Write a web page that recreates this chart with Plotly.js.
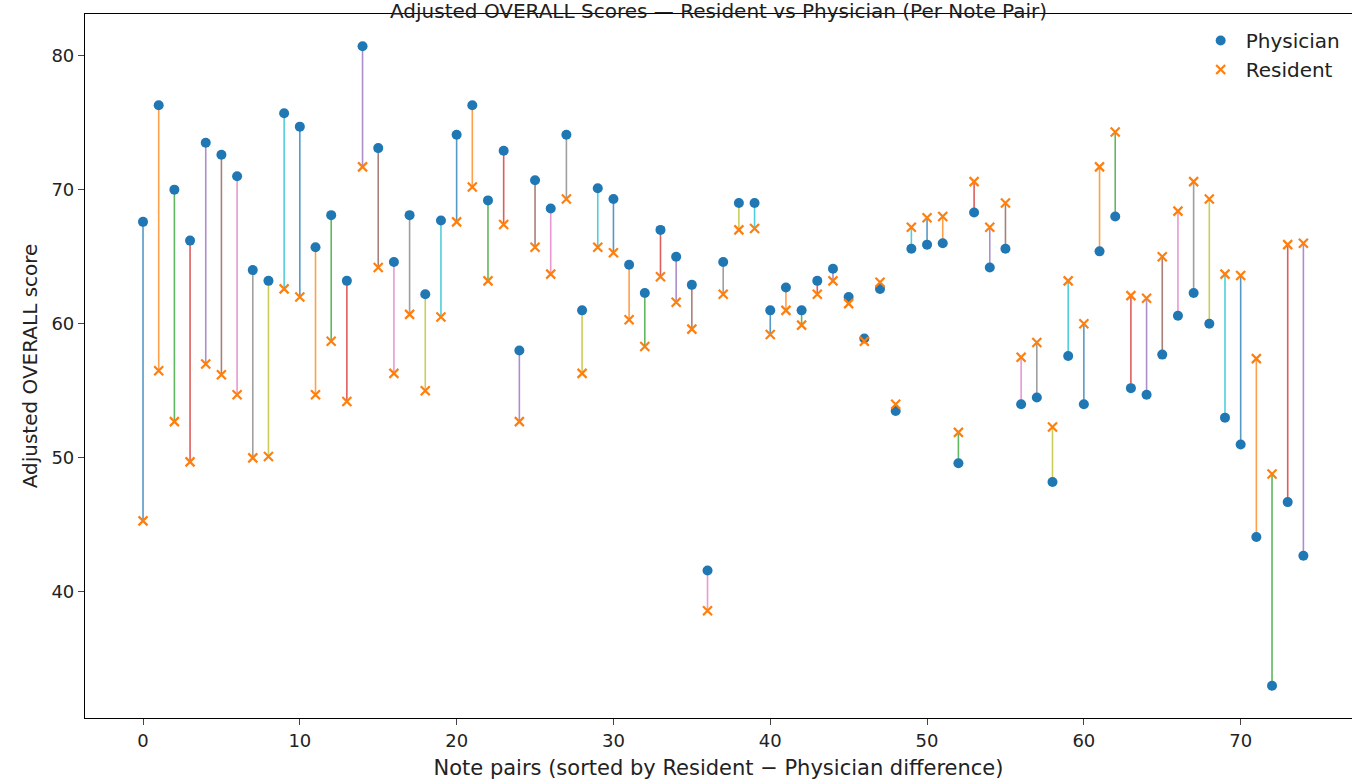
<!DOCTYPE html>
<html>
<head>
<meta charset="utf-8">
<script src="https://cdn.plot.ly/plotly-3.0.1.min.js"></script>
<style>body{margin:0;background:#fff}#plot{width:1352px;height:783px}</style>
</head>
<body>
<div id="plot"></div>
<script>
// Adjusted OVERALL score per note pair, sorted by Resident - Physician difference
const physician = [67.6, 76.3, 70.0, 66.2, 73.5, 72.6, 71.0, 64.0, 63.2, 75.7,
  74.7, 65.7, 68.1, 63.2, 80.7, 73.1, 64.6, 68.1, 62.2, 67.7,
  74.1, 76.3, 69.2, 72.9, 58.0, 70.7, 68.6, 74.1, 61.0, 70.1,
  69.3, 64.4, 62.3, 67.0, 65.0, 62.9, 41.6, 64.6, 69.0, 69.0,
  61.0, 62.7, 61.0, 63.2, 64.1, 62.0, 58.9, 62.6, 53.5, 65.6,
  65.9, 66.0, 49.6, 68.3, 64.2, 65.6, 54.0, 54.5, 48.2, 57.6,
  54.0, 65.4, 68.0, 55.2, 54.7, 57.7, 60.6, 62.3, 60.0, 53.0,
  51.0, 44.1, 33.0, 46.7, 42.7];
const resident = [45.3, 56.5, 52.7, 49.7, 57.0, 56.2, 54.7, 50.0, 50.1, 62.6,
  62.0, 54.7, 58.7, 54.2, 71.7, 64.2, 56.3, 60.7, 55.0, 60.5,
  67.6, 70.2, 63.2, 67.4, 52.7, 65.7, 63.7, 69.3, 56.3, 65.7,
  65.3, 60.3, 58.3, 63.5, 61.6, 59.6, 38.6, 62.2, 67.0, 67.1,
  59.2, 61.0, 59.9, 62.2, 63.2, 61.5, 58.7, 63.1, 54.0, 67.2,
  67.9, 68.0, 51.9, 70.6, 67.2, 69.0, 57.5, 58.6, 52.3, 63.2,
  60.0, 71.7, 74.3, 62.1, 61.9, 65.0, 68.4, 70.6, 69.3, 63.7,
  63.6, 57.4, 48.8, 65.9, 66.0];
const pairIdx = physician.map((_, i) => i);

const tab10 = ['#1f77b4', '#ff7f0e', '#2ca02c', '#d62728', '#9467bd',
  '#8c564b', '#e377c2', '#7f7f7f', '#bcbd22', '#17becf'];

let traces = [];
// connecting line for every pair
for (let i = 0; i < pairIdx.length; i++) {
  traces.push({
    x: [pairIdx[i], pairIdx[i]],
    y: [physician[i], resident[i]],
    mode: 'lines',
    line: {color: tab10[i % 10], width: 1.6},
    opacity: 0.75,
    showlegend: false,
    hoverinfo: 'skip'
  });
}
traces.push({
  x: pairIdx, y: physician, name: 'Physician', mode: 'markers',
  marker: {color: '#1f77b4', size: 10, symbol: 'circle'}
});
traces.push({
  x: pairIdx, y: resident, name: 'Resident', mode: 'markers',
  marker: {color: '#ff7f0e', size: 9, symbol: 'x-thin-open', line: {color: '#ff7f0e', width: 2.2}}
});

const fam = 'DejaVu Sans';
const layout = {
  width: 1352, height: 783,
  margin: {l: 85, r: 0, t: 14, b: 65},
  paper_bgcolor: '#fff', plot_bgcolor: '#fff',
  font: {family: fam, size: 16, color: '#222'},
  xaxis: {
    range: [-3.7, 77.1], tickvals: [0, 10, 20, 30, 40, 50, 60, 70],
    showgrid: false, zeroline: false, showline: true, mirror: true,
    linecolor: '#000', linewidth: 1.2, ticks: 'outside', ticklen: 6,
    tickfont: {family: fam, size: 18},
    title: {text: 'Note pairs (sorted by Resident \u2212 Physician difference)', standoff: 10,
      font: {family: fam, size: 21}}
  },
  yaxis: {
    range: [30.6, 83.1], tickvals: [40, 50, 60, 70, 80],
    showgrid: false, zeroline: false, showline: true, mirror: true,
    linecolor: '#000', linewidth: 1.2, ticks: 'outside', ticklen: 6,
    tickfont: {family: fam, size: 18},
    title: {text: 'Adjusted OVERALL score', standoff: 8, font: {family: fam, size: 20}}
  },
  legend: {x: 0.995, y: 0.99, xanchor: 'right', yanchor: 'top',
    bgcolor: 'rgba(255,255,255,0)', font: {family: fam, size: 20}, itemwidth: 40},
  annotations: [{
    text: 'Adjusted OVERALL Scores \u2014 Resident vs Physician (Per Note Pair)',
    xref: 'paper', yref: 'paper', x: 0.5, y: 1, yanchor: 'middle', yshift: 3,
    showarrow: false, font: {family: fam, size: 20}
  }]
};

Plotly.newPlot('plot', traces, layout, {displayModeBar: false});
</script>
</body>
</html>
